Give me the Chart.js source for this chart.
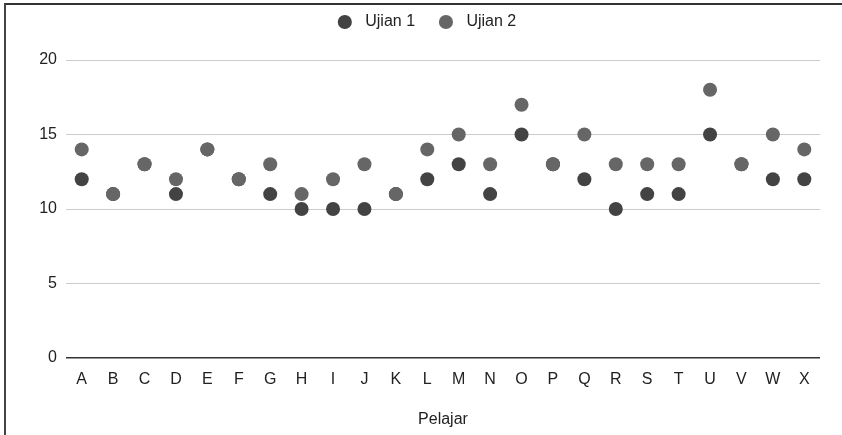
<!DOCTYPE html>
<html>
<head>
<meta charset="utf-8">
<script src="https://cdn.jsdelivr.net/npm/chart.js@4/dist/chart.umd.min.js"></script>
<style>
  html, body { margin: 0; padding: 0; background: #fff; }
  #wrap { position: relative; width: 842px; height: 435px; }
  #frame {
    position: absolute; left: 4px; top: 3px; right: 0; bottom: 0;
    border-top: 2px solid #333; border-left: 2px solid #444;
    pointer-events: none;
  }
  canvas { position: absolute; left: 0; top: 0; }
</style>
</head>
<body>
<div id="wrap">
  <canvas id="chart" width="842" height="435"></canvas>
  <div id="frame"></div>
</div>
<script>
// Students (Pelajar) A..X
const students = ["A","B","C","D","E","F","G","H","I","J","K","L","M","N","O","P","Q","R","S","T","U","V","W","X"];
// Scores per exam
const ujian1 = [12, 11, 13, 11, 14, 12, 11, 10, 10, 10, 11, 12, 13, 11, 15, 13, 12, 10, 11, 11, 15, 13, 12, 12];
const ujian2 = [14, 11, 13, 12, 14, 12, 13, 11, 12, 13, 11, 14, 15, 13, 17, 13, 15, 13, 13, 13, 18, 13, 15, 14];
const yTicks = [0, 5, 10, 15, 20];

const FONT = "'Liberation Sans', Arial, sans-serif";

// helper to build a points-only dataset
function pointSet(label, values, color, order) {
  return {
    label: label,
    data: values,
    showLine: false,
    pointRadius: 7,
    pointHoverRadius: 7,
    pointBorderWidth: 0,
    borderColor: color,
    backgroundColor: color,
    pointBackgroundColor: color,
    order: order
  };
}

// extra space between the legend and the plot
const legendGap = {
  id: "legendGap",
  beforeLayout(chart) {
    const legend = chart.legend;
    if (!legend || legend._gapPatched) return;
    const fit = legend.fit;
    legend.fit = function () {
      fit.call(this);
      this.height += 20;
    };
    legend._gapPatched = true;
  }
};

const ctx = document.getElementById("chart").getContext("2d");
new Chart(ctx, {
  type: "line",
  data: {
    labels: students,
    datasets: [
      pointSet("Ujian 1", ujian1, "#434343", 1),
      pointSet("Ujian 2", ujian2, "#666666", 0)
    ]
  },
  plugins: [legendGap],
  options: {
    responsive: false,
    animation: false,
    layout: { padding: { left: 33, right: 22, top: 0, bottom: 0 } },
    plugins: {
      tooltip: { enabled: false },
      legend: {
        position: "top",
        labels: {
          usePointStyle: true,
          pointStyle: "circle",
          boxHeight: 10,
          padding: 14,
          color: "#222",
          font: { family: FONT, size: 16 },
          // a little more air around the label text, like the original
          generateLabels: (chart) => {
            const items = Chart.defaults.plugins.legend.labels.generateLabels(chart);
            items.forEach(it => {
              it.text = " " + it.text + (it.datasetIndex === 0 ? "  " : "");
            });
            return items;
          },
          // keep legend in dataset order even though draw order is reversed
          sort: (a, b) => a.datasetIndex - b.datasetIndex
        }
      }
    },
    scales: {
      x: {
        offset: true,
        grid: { display: false, offset: true },
        border: { display: false },
        ticks: { color: "#222", padding: 4, font: { family: FONT, size: 16 }, autoSkip: false, maxRotation: 0 },
        title: { display: true, text: "Pelajar", color: "#222", font: { family: FONT, size: 16 }, padding: { top: 0, bottom: 6 } },
        afterFit: (scale) => { scale.height = 77; }
      },
      y: {
        min: 0,
        max: 20,
        border: { display: false },
        grid: {
          drawTicks: false,
          color: (c) => (c.tick && c.tick.value === 0 ? "#333" : "#cccccc"),
          lineWidth: (c) => (c.tick && c.tick.value === 0 ? 1.5 : 1)
        },
        afterBuildTicks: (scale) => { scale.ticks = yTicks.map(v => ({ value: v })); },
        ticks: { color: "#222", padding: 9, font: { family: FONT, size: 16 } },
        afterFit: (scale) => { scale.width = 33; }
      }
    }
  }
});
</script>
</body>
</html>
